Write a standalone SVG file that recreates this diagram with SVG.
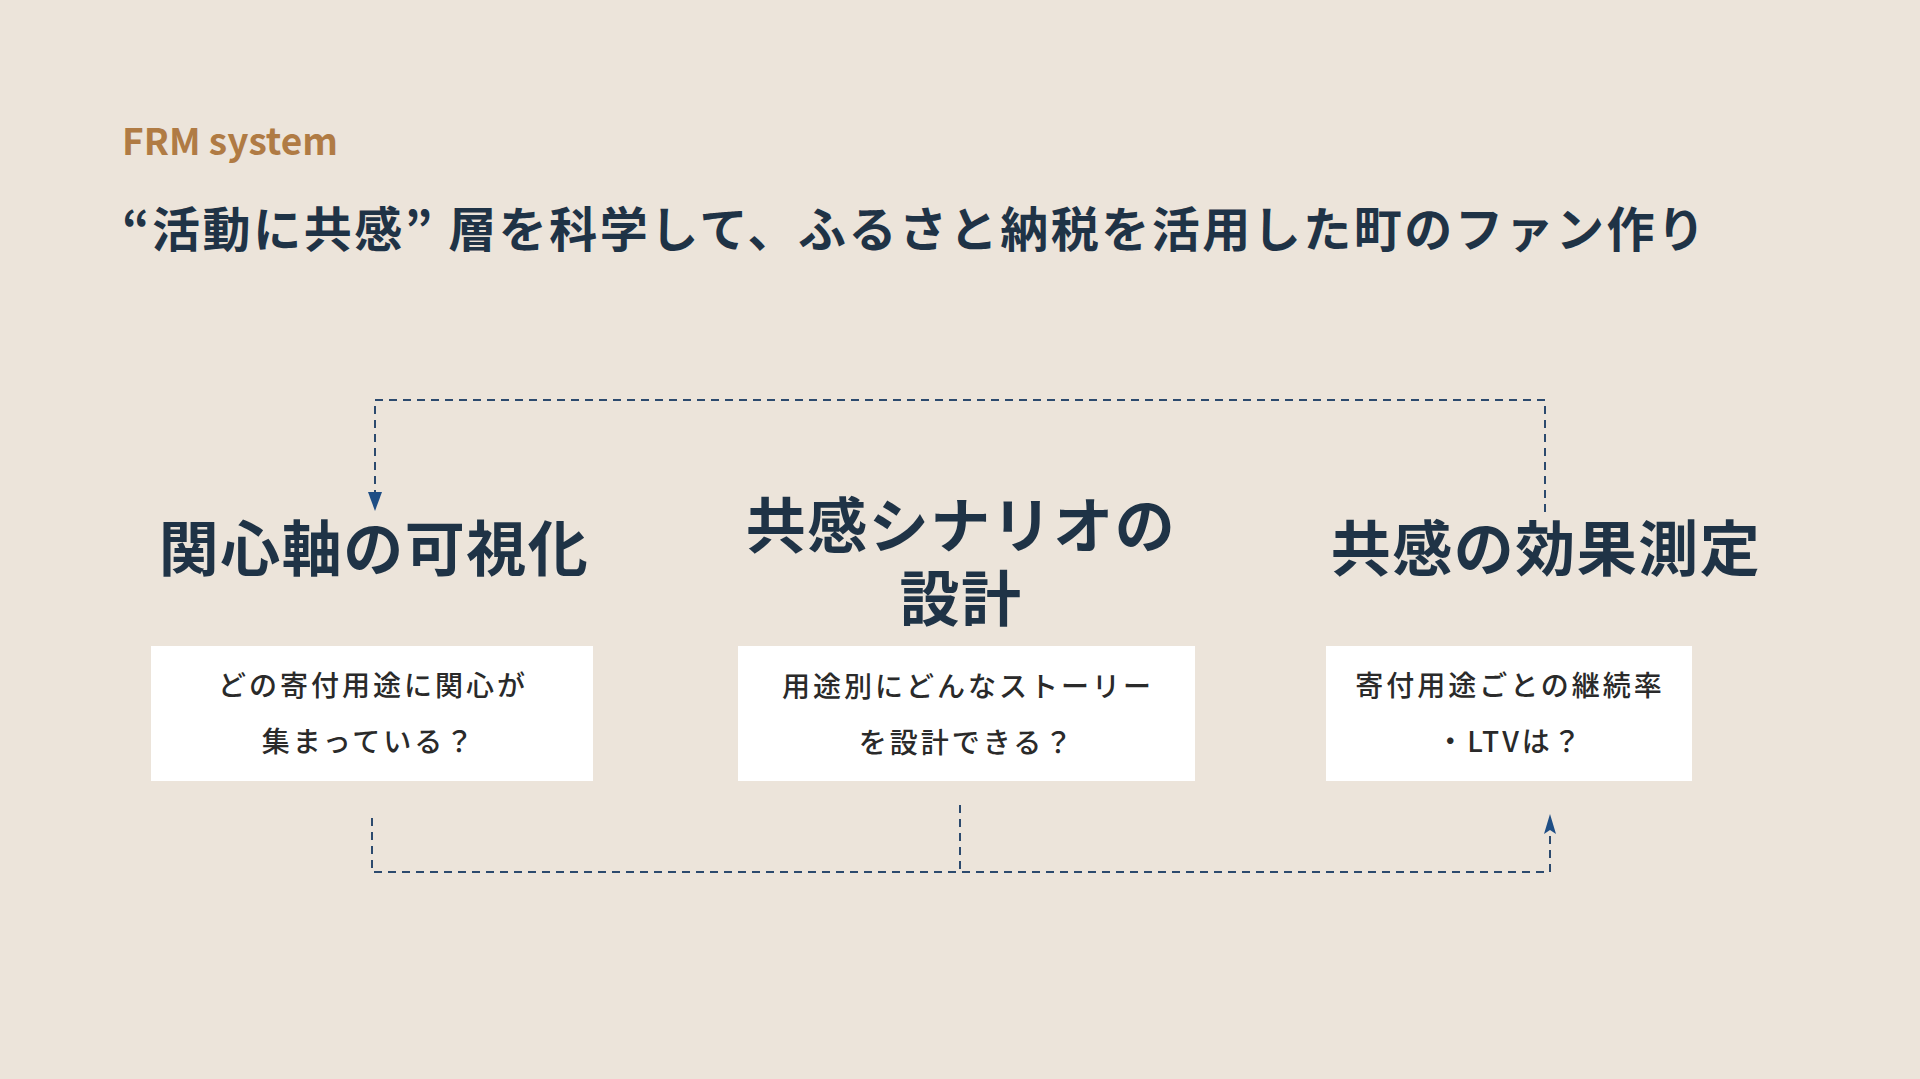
<svg xmlns="http://www.w3.org/2000/svg" width="1920" height="1079" viewBox="0 0 1920 1079">
<style>
.bg{fill:#ECE4DA}
.eyebrow{font-family:"Noto Sans CJK JP","Noto Sans",sans-serif;font-weight:700;font-size:37px;fill:#B07B44}
.headline{font-family:"Noto Sans CJK JP",sans-serif;font-weight:700;font-size:48px;fill:#1F3346}
.title{font-family:"Noto Sans CJK JP",sans-serif;font-weight:700;font-size:60px;fill:#1F3346;text-anchor:middle;letter-spacing:1.5px}
.box{fill:#FFFFFF}
.body{font-family:"Noto Sans CJK JP",sans-serif;font-weight:500;font-size:28px;fill:#2A2A2A;text-anchor:middle;letter-spacing:3px}
.conn{fill:none;stroke:#2C4A6E;stroke-width:2;stroke-dasharray:8 6}
.head{fill:#1F4E85}
</style>
<rect class="bg" x="0" y="0" width="1920" height="1079"/>
<text class="eyebrow" x="122" y="155">FRM system</text>
<text class="headline" x="122" y="247" textLength="1583" lengthAdjust="spacing">“活動に共感” 層を科学して、ふるさと納税を活用した町のファン作り</text>

<g id="connectors">
<path class="conn" d="M1545,512 L1545,400 L375,400 L375,495"/>
<path class="head" d="M368,492 L382,492 L375,511 Z"/>
<path class="conn" d="M372,818 L372,872 L1550,872 L1550,830"/>
<path class="conn" d="M960,805 L960,872"/>
<path class="head" d="M1550,814 L1556,834 L1550,830 L1544,834 Z"/>
</g>

<g id="node-visualize">
<text class="title" x="374" y="571">関心軸の可視化</text>
<rect class="box" x="151" y="646" width="442" height="135"/>
<text class="body" x="373" y="696">どの寄付用途に関心が</text>
<text class="body" x="369" y="752">集まっている？</text>
</g>

<g id="node-scenario">
<text class="title"><tspan x="961" y="548">共感シナリオの</tspan><tspan x="961" y="621">設計</tspan></text>
<rect class="box" x="738" y="646" width="457" height="135"/>
<text class="body" x="968" y="697">用途別にどんなストーリー</text>
<text class="body" x="967" y="753">を設計できる？</text>
</g>

<g id="node-measure">
<text class="title" x="1546" y="571">共感の効果測定</text>
<rect class="box" x="1326" y="646" width="366" height="135"/>
<text class="body" x="1510" y="696">寄付用途ごとの継続率</text>
<text class="body" x="1510" y="752">・LTVは？</text>
</g>
</svg>
